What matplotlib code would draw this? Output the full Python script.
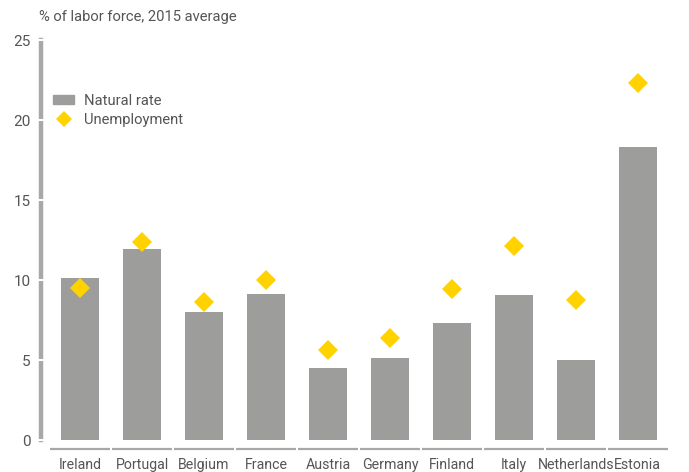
import matplotlib.pyplot as plt
from matplotlib.patches import Patch
from matplotlib.lines import Line2D

countries = ["Ireland", "Portugal", "Belgium", "France", "Austria",
             "Germany", "Finland", "Italy", "Netherlands", "Estonia"]
natural_rate = [10.1, 11.95, 8.0, 9.15, 4.5, 5.1, 7.3, 9.05, 5.0, 18.3]
unemployment = [9.5, 12.35, 8.65, 10.0, 5.65, 6.4, 9.45, 12.1, 8.75, 22.3]
yticks = [0, 5, 10, 15, 20, 25]

bar_col = "#9d9d9c"
yellow = "#ffd200"
txt_col = "#555555"
line_col = "#a8a8a8"

plt.rcParams['font.family'] = ['Roboto', 'DejaVu Sans']

fig = plt.figure(figsize=(6.89, 4.72), dpi=100)
ax = fig.add_axes([41 / 689, 32 / 472, 629 / 689, 400 / 472])

x = list(range(len(countries)))
ax.bar(x, natural_rate, width=0.61, color=bar_col, zorder=2)
ax.plot(x, unemployment, linestyle="none", marker="D", markersize=10.5,
        color=yellow, markeredgewidth=0, zorder=3)

ax.set_xlim(-0.63, 9.52)
ax.set_ylim(0, 25)

for s in ["top", "right", "bottom"]:
    ax.spines[s].set_visible(False)
ax.spines["left"].set_color(line_col)
ax.spines["left"].set_linewidth(3.2)

# segmented baseline under each category
for i in x:
    ax.plot([i - 0.485, i + 0.485], [-0.0225, -0.0225], color=line_col,
            linewidth=1.6, transform=ax.get_xaxis_transform(), clip_on=False,
            solid_capstyle="butt")

ax.set_yticks(yticks)
ax.tick_params(axis="y", direction="inout", length=5, width=1.5, color="white",
               labelcolor=txt_col, labelsize=11, pad=5)
ax.yaxis.set_zorder(3)
ax.set_xticks(x)
ax.set_xticklabels(countries)
ax.tick_params(axis="x", length=0, labelcolor=txt_col, labelsize=10.2, pad=13)

handles = [Patch(color=bar_col, label="Natural rate"),
           Line2D([], [], linestyle="none", marker="D", markersize=8,
                  color=yellow, markeredgewidth=0, label="Unemployment")]
leg = ax.legend(handles=handles, loc="upper left", bbox_to_anchor=(0.019, 0.866),
                frameon=False, fontsize=10.6, handlelength=1.45, handleheight=0.5,
                handletextpad=0.68, labelspacing=0.38, borderpad=0,
                borderaxespad=0)
for t in leg.get_texts():
    t.set_color(txt_col)

fig.text(39 / 689, 1 - 17 / 472, "% of labor force, 2015 average",
         color=txt_col, fontsize=10.6, va="center", ha="left")

fig.savefig("out.png", dpi=100)
